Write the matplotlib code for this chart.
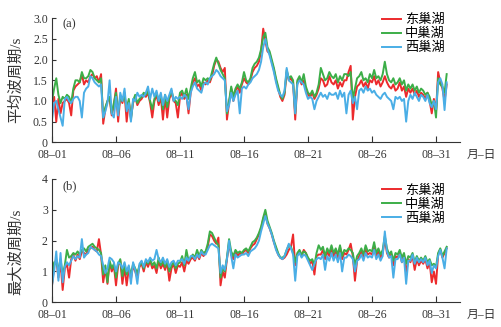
import numpy as np
import matplotlib
matplotlib.use("Agg")
import matplotlib.pyplot as plt

plt.rcParams['font.family'] = ['Liberation Serif', 'Noto Sans CJK SC']
plt.rcParams['axes.unicode_minus'] = False

# --- data: 4-hourly values, 6 per day, 08-01 .. 08-31 ---
STEP_H = 4
tick_days = [0, 5, 10, 15, 20, 25, 30]
tick_labels = ['08–01', '08–06', '08–11', '08–16', '08–21', '08–26', '08–31']
series_names = ['东巢湖', '中巢湖', '西巢湖']

# (a) mean wave period, s
mean_east = [
    0.95, 1.10, 0.50, 1.05, 0.70, 0.95,
    1.00, 1.05, 0.95, 0.65, 1.25, 1.35,
    1.40, 1.45, 1.65, 1.40, 1.50, 1.45,
    1.60, 1.65, 1.55, 1.60, 1.45, 1.65,
    0.45, 0.80, 1.00, 1.05, 0.65, 0.90,
    1.30, 0.50, 1.10, 0.95, 1.20, 0.50,
    1.00, 0.60, 0.95, 1.10, 0.90, 1.00,
    1.05, 1.15, 1.10, 1.20, 0.95, 0.60,
    1.00, 1.15, 0.90, 1.10, 0.55, 1.10,
    0.60, 1.05, 1.20, 1.00, 0.95, 0.60,
    1.10, 1.20, 1.05, 1.15, 0.70, 1.20,
    1.45, 1.55, 1.35, 1.40, 1.25, 1.45,
    1.40, 1.50, 1.45, 1.60, 1.85, 2.00,
    1.95, 1.80, 1.70, 1.80, 0.55, 0.95,
    1.30, 1.00, 1.25, 1.35, 1.20, 1.40,
    1.55, 1.45, 1.40, 1.50, 1.70, 1.80,
    1.85, 1.95, 2.20, 2.75, 2.45, 2.20,
    2.15, 1.95, 1.75, 1.50, 1.30, 1.10,
    1.00, 1.15, 1.70, 1.50, 1.55, 1.45,
    0.55, 1.45, 1.55, 1.40, 1.50, 1.30,
    1.15, 1.10, 1.20, 1.05, 1.15, 1.30,
    1.55, 1.50, 1.35, 1.40, 1.60, 1.45,
    1.40, 1.50, 1.30, 1.45, 1.35, 1.50,
    1.50, 1.70, 1.85, 0.55, 1.10, 1.35,
    1.40, 1.50, 1.35, 1.45, 1.30, 1.50,
    1.45, 1.60, 1.40, 1.50, 1.35, 1.45,
    1.60, 1.45, 1.35, 1.30, 1.40, 1.25,
    1.30, 1.45, 1.25, 1.35, 1.10, 1.30,
    1.20, 1.30, 1.15, 1.25, 1.10, 1.20,
    1.15, 1.05, 1.20, 1.00, 0.70, 1.05,
    0.75, 1.70, 1.45, 1.30, 1.00, 1.40,
]
mean_mid = [
    1.00, 1.30, 1.55, 1.15, 0.95, 1.10,
    1.05, 1.15, 1.10, 0.95, 1.30, 1.50,
    1.50, 1.45, 1.70, 1.55, 1.55, 1.60,
    1.75, 1.70, 1.55, 1.50, 1.45, 1.55,
    0.60, 0.85, 1.00, 1.10, 0.70, 0.95,
    1.20, 0.70, 1.10, 1.00, 1.15, 0.80,
    1.05, 0.55, 1.00, 1.15, 0.95, 1.05,
    1.10, 1.20, 1.15, 1.25, 1.00, 0.80,
    1.05, 1.20, 1.00, 1.15, 0.80, 1.15,
    0.85, 1.10, 1.25, 1.05, 1.00, 0.90,
    1.20, 1.25, 1.10, 1.30, 1.05, 1.30,
    1.55, 1.70, 1.45, 1.50, 1.35, 1.55,
    1.50, 1.55, 1.50, 1.70, 1.90, 2.05,
    1.90, 1.75, 1.65, 1.55, 0.70, 1.00,
    1.35, 1.10, 1.30, 1.40, 1.30, 1.45,
    1.70, 1.50, 1.45, 1.55, 1.80, 1.90,
    1.95, 2.05, 2.25, 2.55, 2.65, 2.30,
    2.20, 2.00, 1.80, 1.55, 1.35, 1.15,
    1.05, 1.20, 1.75, 1.55, 1.60, 1.50,
    0.70, 1.50, 1.60, 1.45, 1.65, 1.35,
    1.20, 1.15, 1.25, 1.10, 1.20, 1.40,
    1.80, 1.65, 1.50, 1.55, 1.70, 1.60,
    1.55, 1.65, 1.45, 1.60, 1.50, 1.65,
    1.65, 1.60, 1.70, 1.05, 1.30, 1.55,
    1.60, 1.70, 1.50, 1.55, 1.45, 1.65,
    1.55, 1.75, 1.55, 1.60, 1.50, 1.65,
    1.95, 1.65, 1.50, 1.45, 1.55, 1.40,
    1.45, 1.55, 1.40, 1.50, 1.25, 1.40,
    1.30, 1.40, 1.25, 1.35, 1.20, 1.30,
    1.25, 1.15, 1.20, 1.10, 0.90, 1.00,
    0.60, 1.55, 1.40, 1.35, 1.20, 1.65,
]
mean_west = [
    0.55, 0.95, 1.00, 0.80, 0.60, 0.40,
    1.05, 1.10, 1.00, 0.95, 1.05, 1.10,
    1.10, 1.00, 0.60, 1.20, 1.30, 1.35,
    1.60, 1.55, 1.45, 1.40, 1.35, 1.40,
    0.60, 0.75, 0.95, 1.50, 0.70, 0.60,
    1.10, 0.65, 1.20, 1.00, 1.30, 0.75,
    0.95, 0.50, 1.05, 1.00, 1.20, 1.10,
    1.15, 1.10, 1.20, 1.35, 1.05, 1.30,
    1.10, 1.25, 1.00, 1.20, 0.90, 1.15,
    1.00, 1.15, 1.30, 1.00, 1.10, 1.05,
    1.10, 1.05, 1.15, 1.10, 0.80, 1.20,
    1.35, 1.45, 1.30, 1.25, 1.20, 1.40,
    1.45, 1.40, 1.55, 1.60, 1.65, 1.75,
    1.70, 1.60, 1.55, 1.50, 0.75, 0.90,
    1.20, 1.00, 1.15, 1.25, 0.70, 1.30,
    1.35, 1.30, 1.40, 1.45, 1.55, 1.60,
    1.65, 1.75, 1.95, 2.30, 2.50, 2.25,
    2.10, 1.90, 1.70, 1.45, 1.25, 1.15,
    1.10, 1.25, 1.80, 1.50, 1.45, 1.40,
    0.70, 1.40, 1.50, 1.45, 1.40, 1.20,
    1.05, 1.10, 1.05, 0.80, 1.00, 1.10,
    1.20, 1.10, 1.15, 1.05, 1.20, 1.15,
    1.15, 1.20, 1.05, 1.25, 1.10, 1.20,
    0.70, 1.15, 1.25, 0.95, 1.10, 0.80,
    1.25, 1.30, 1.20, 1.35, 1.25, 1.30,
    1.20, 1.25, 1.15, 1.10, 1.05, 1.15,
    1.20, 1.10, 1.05, 1.00, 0.80, 1.10,
    1.05, 1.10, 1.00, 1.05, 0.50, 1.00,
    1.15, 1.05, 1.20, 1.10, 1.00, 1.15,
    1.10, 1.00, 1.15, 0.95, 0.85, 1.00,
    0.80, 1.45, 1.55, 1.40, 0.78, 1.45,
]

# (b) maximum wave period, s
max_east = [
    0.55, 1.20, 1.40, 0.80, 1.30, 0.40,
    1.10, 1.25, 0.80, 1.40, 1.55, 1.35,
    1.55, 1.40, 1.65, 1.60, 1.55, 1.70,
    1.75, 1.80, 1.70, 1.65, 2.05, 1.55,
    0.65, 1.10, 0.60, 1.30, 1.00, 1.20,
    0.55, 1.20, 1.35, 0.60, 1.15, 0.55,
    1.10, 0.75, 1.20, 1.00, 0.80, 1.15,
    1.25, 1.00, 1.30, 1.15, 1.35, 1.10,
    1.20, 0.95, 1.35, 1.10, 1.25, 1.05,
    1.30, 0.70, 1.10, 1.25, 0.95, 1.20,
    1.15, 1.30, 1.00, 1.35, 1.25, 1.40,
    1.45, 1.35, 1.55, 1.40, 1.60, 1.50,
    1.60, 1.80, 2.20, 2.15, 2.00, 1.90,
    2.10, 0.55, 1.00, 0.80, 1.40, 1.90,
    1.55, 1.40, 1.65, 1.50, 1.60, 1.55,
    1.65, 1.70, 1.60, 1.75, 1.85, 1.90,
    2.05, 2.20, 2.40, 2.70, 2.90, 2.55,
    2.40, 2.20, 1.95, 1.75, 1.55, 1.45,
    1.40, 1.45, 1.55, 1.70, 1.80, 2.20,
    1.20, 1.55, 1.65, 1.50, 1.70, 1.60,
    1.40, 1.25, 1.35, 0.90, 1.50, 1.55,
    1.55, 1.70, 1.40, 1.65, 1.50, 1.75,
    1.50, 1.65, 1.45, 1.80, 1.40, 1.60,
    1.55, 1.70, 1.90, 1.50, 0.70, 1.35,
    1.50, 1.65, 1.45, 1.70, 1.55, 1.60,
    1.55, 1.80, 1.50, 1.65, 1.45, 1.60,
    2.05, 1.60, 1.45, 1.55, 1.20, 1.50,
    1.45, 1.60, 1.30, 1.50, 0.95, 1.40,
    1.30, 1.50, 1.05, 1.40, 1.20, 1.35,
    1.25, 1.40, 1.10, 1.30, 0.65, 1.00,
    0.60, 1.55, 1.70, 1.45, 1.60, 1.75,
]
max_mid = [
    0.60, 1.30, 1.25, 1.10, 1.40, 0.90,
    1.20, 1.70, 1.45, 1.50, 1.60, 1.55,
    1.65, 1.55, 1.70, 1.75, 1.65, 1.80,
    1.85, 1.90, 1.80, 1.75, 1.70, 1.60,
    0.90, 1.20, 0.65, 1.35, 1.10, 1.25,
    0.80, 1.25, 1.40, 0.85, 1.20, 0.90,
    1.15, 0.90, 1.25, 1.10, 0.95, 1.20,
    1.30, 1.10, 1.35, 1.25, 1.40, 1.20,
    1.30, 1.10, 1.45, 1.20, 1.35, 1.15,
    1.35, 1.00, 1.20, 1.30, 1.10, 1.25,
    1.30, 1.50, 1.20, 1.70, 1.35, 1.45,
    1.55, 1.45, 1.70, 1.50, 1.70, 1.60,
    1.65, 1.90, 2.30, 2.25, 2.10, 1.95,
    1.85, 0.80, 1.10, 1.00, 1.45, 2.05,
    1.65, 1.50, 1.70, 1.60, 1.65, 1.60,
    1.70, 1.75, 1.65, 1.80, 1.95, 2.00,
    2.10, 2.25, 2.45, 2.75, 3.00, 2.65,
    2.45, 2.25, 2.00, 1.80, 1.60, 1.45,
    1.45, 1.50, 1.70, 1.85, 1.80, 1.60,
    1.30, 1.60, 1.70, 1.55, 1.65, 1.60,
    1.45, 1.35, 1.40, 1.20, 1.60, 1.85,
    1.70, 1.80, 1.50, 1.75, 1.60, 1.85,
    1.60, 1.75, 1.55, 1.85, 1.50, 1.70,
    1.65, 1.75, 1.70, 1.60, 1.20, 1.50,
    1.60, 1.75, 1.55, 1.85, 1.65, 1.70,
    1.65, 1.95, 1.60, 1.75, 1.55, 1.70,
    2.15, 1.75, 1.55, 1.65, 1.35, 1.60,
    1.55, 1.70, 1.45, 1.60, 1.25, 1.50,
    1.45, 1.60, 1.30, 1.50, 1.35, 1.45,
    1.35, 1.50, 1.30, 1.40, 1.20, 1.25,
    1.15, 1.60, 1.75, 1.50, 1.65, 1.80,
]
max_west = [
    0.55, 1.00, 1.65, 0.70, 1.60, 0.65,
    1.15, 1.30, 1.20, 1.35, 1.50, 1.40,
    1.50, 1.45, 2.05, 1.45, 1.55, 1.60,
    1.80, 1.75, 1.70, 1.65, 1.55, 1.50,
    1.20, 0.95, 1.10, 1.45, 1.40, 1.30,
    1.00, 1.30, 1.25, 1.10, 1.30, 1.00,
    1.20, 0.60, 1.30, 1.05, 0.60, 1.25,
    1.35, 1.15, 1.40, 1.30, 1.45, 1.35,
    1.40, 1.70, 1.40, 1.30, 1.45, 1.25,
    1.40, 1.15, 1.30, 1.35, 1.20, 1.35,
    1.35, 1.40, 1.25, 1.45, 1.35, 1.50,
    1.50, 1.40, 1.55, 1.45, 1.65, 1.55,
    1.55, 1.70, 1.85, 1.90, 1.85, 1.80,
    1.75, 0.95, 1.20, 1.05, 1.40, 2.00,
    1.50, 1.10, 1.55, 1.45, 1.50, 1.55,
    1.55, 1.60, 1.50, 1.65, 1.70, 1.75,
    1.85, 2.00, 2.30, 2.55, 2.80, 2.55,
    2.40, 2.20, 1.95, 1.70, 1.55, 1.45,
    1.40, 1.50, 1.70, 1.90, 1.75, 1.55,
    0.70, 1.50, 1.60, 1.45, 1.55, 1.50,
    1.35, 1.20, 1.05, 1.25, 1.40, 1.45,
    1.40, 1.55, 1.05, 1.50, 1.35, 1.60,
    1.35, 1.55, 1.30, 1.60, 1.00, 1.45,
    1.45, 1.55, 1.50, 1.40, 1.00, 1.35,
    1.40, 1.55, 1.35, 1.60, 1.45, 1.50,
    1.45, 1.70, 1.40, 1.55, 1.35, 1.50,
    2.30, 1.65, 1.45, 1.50, 0.80, 1.40,
    1.40, 1.55, 1.30, 1.45, 0.60, 1.35,
    1.35, 1.55, 1.25, 1.45, 1.30, 1.40,
    1.30, 1.45, 1.20, 1.35, 0.95, 1.20,
    1.10, 1.50, 1.70, 1.45, 1.10, 1.75,
]

colors = ['#ec2a2c', '#3cae48', '#4aaee6']
days = np.arange(len(mean_east)) * STEP_H / 24.0

fig = plt.figure(figsize=(5.01, 3.27), dpi=100)
ax_a = fig.add_axes([0.1038, 0.5648, 0.8144, 0.3792])
ax_b = fig.add_axes([0.1038, 0.0755, 0.8144, 0.3771])

panels = [
    (ax_a, [mean_east, mean_mid, mean_west], '平均波周期/s', '(a)',
     (0, 3.0), [0, 0.5, 1.0, 1.5, 2.0, 2.5, 3.0], ['0', '0.5', '1.0', '1.5', '2.0', '2.5', '3.0'],
     1.035, 0.5, 0.955),
    (ax_b, [max_east, max_mid, max_west], '最大波周期/s', '(b)',
     (0, 4), [0, 1, 2, 3, 4], ['0', '1', '2', '3', '4'],
     0.955, 0.41, 0.943),
]

for ax, data, ylabel, tag, ylim, yticks, ylabels, leg_y, lab_y, tag_y in panels:
    for vals, name, c in zip(data, series_names, colors):
        ax.plot(days, vals, color=c, lw=1.4, label=name)
    ax.set_xlim(0, 31.875)
    ax.set_ylim(*ylim)
    ax.set_xticks(tick_days)
    ax.set_xticklabels(tick_labels)
    ax.set_yticks(yticks)
    ax.set_yticklabels(ylabels)
    ax.spines['top'].set_visible(False)
    ax.spines['right'].set_visible(False)
    for s in ('left', 'bottom'):
        ax.spines[s].set_linewidth(0.8)
        ax.spines[s].set_color('#333333')
    ax.tick_params(axis='x', direction='in', length=4, width=0.8, pad=5,
                   labelsize=8.5, colors='#333333')
    ax.tick_params(axis='y', direction='in', length=3, width=0.8, pad=3,
                   labelsize=8.5, colors='#333333')
    ax.set_ylabel(ylabel, fontsize=11, color='#333333')
    ax.yaxis.set_label_coords(-0.072, lab_y)
    ax.text(0.025, tag_y, tag, transform=ax.transAxes,
            fontsize=9, ha='left', va='center', color='#333333')
    ax.text(1.015, -0.1, '月–日', transform=ax.transAxes, fontsize=8.5,
            ha='left', va='center', color='#333333')
    ax.legend(loc='upper left', bbox_to_anchor=(0.808, leg_y), frameon=False,
              fontsize=9.5, handlelength=1.45, handletextpad=0.3,
              labelspacing=0.12, borderpad=0, borderaxespad=0)

fig.savefig('out.png', dpi=100)
